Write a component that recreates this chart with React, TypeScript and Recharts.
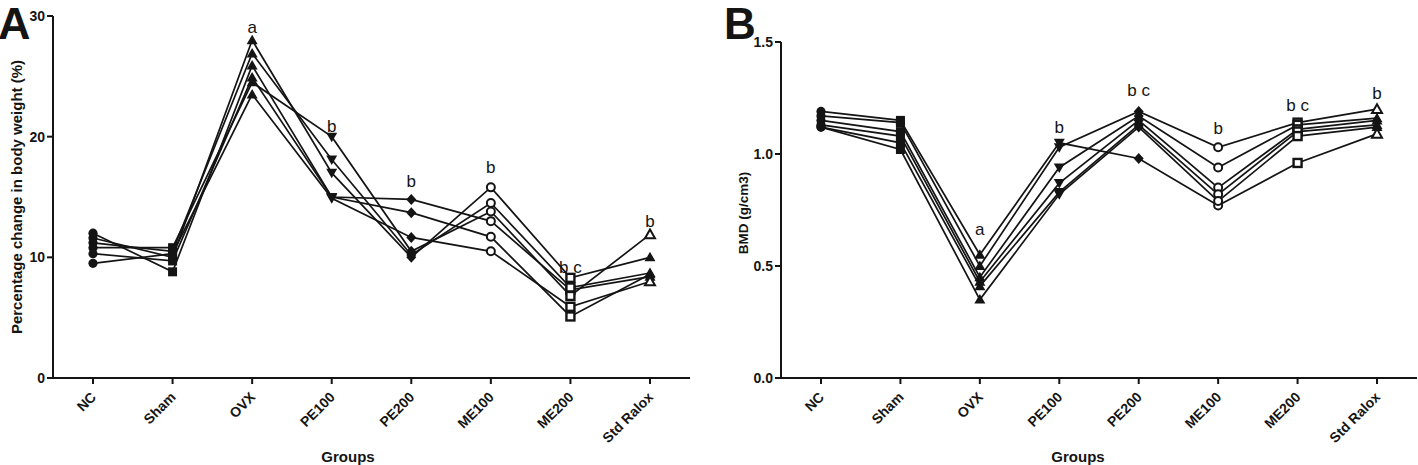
import React from 'react';
import { LineChart, Line, XAxis, YAxis, ReferenceDot } from 'recharts';

// ---------- data ----------
const groups = ['NC', 'Sham', 'OVX', 'PE100', 'PE200', 'ME100', 'ME200', 'Std Ralox'];

// Panel A: percentage change in body weight (%)
const weightRat1 = [12.0, 8.8, 25.9, 15.0, 14.8, 13.0, 7.3, 8.4];
const weightRat2 = [11.6, 10.0, 28.0, 17.0, 10.0, 15.8, 8.3, 10.0];
const weightRat3 = [11.2, 10.5, 26.9, 18.1, 10.2, 14.5, 7.5, 8.7];
const weightRat4 = [10.8, 10.8, 24.5, 20.0, 10.5, 13.8, 6.8, 11.9];
const weightRat5 = [10.3, 9.7, 24.9, 15.0, 13.7, 11.7, 5.1, 8.6];
const weightRat6 = [9.5, 10.3, 23.5, 14.9, 11.65, 10.5, 5.9, 8.0];

// Panel B: BMD (g/cm3)
const bmdRat1 = [1.19, 1.15, 0.55, 1.05, 0.98, 0.77, 0.96, 1.09];
const bmdRat2 = [1.17, 1.14, 0.5, 1.03, 1.19, 1.03, 1.14, 1.2];
const bmdRat3 = [1.15, 1.1, 0.45, 0.94, 1.17, 0.94, 1.13, 1.16];
const bmdRat4 = [1.13, 1.08, 0.43, 0.87, 1.15, 0.85, 1.11, 1.15];
const bmdRat5 = [1.12, 1.05, 0.41, 0.83, 1.13, 0.82, 1.1, 1.13];
const bmdRat6 = [1.12, 1.02, 0.35, 0.82, 1.12, 0.79, 1.08, 1.12];

const weightTicks = [0, 10, 20, 30];
const bmdTicks = [0, 0.5, 1.0, 1.5];

// significance letters
const annGroupsA = ['OVX', 'PE100', 'PE200', 'ME100', 'ME200', 'Std Ralox'];
const annTextA = ['a', 'b', 'b', 'b', 'b c', 'b'];
const annGroupsB = ['OVX', 'PE100', 'PE200', 'ME100', 'ME200', 'Std Ralox'];
const annTextB = ['a', 'b', 'b c', 'b', 'b c', 'b'];

// ---------- styling ----------
const FONT = '"Liberation Sans", Arial, Helvetica, sans-serif';
const INK = '#141414';
const markerByGroup = ['dot', 'square', 'tri', 'triDown', 'diamond', 'ring', 'box', 'triOpen'];
const raloxOpenA = [false, false, false, true, false, true];
const raloxOpenB = [true, true, false, false, false, false];
const annOffsetA = [6, 4, 11, 13, 4, 6];
const annOffsetB = [19, 9, 14, 12, 11, 9];

const weightSeries = [weightRat1, weightRat2, weightRat3, weightRat4, weightRat5, weightRat6];
const bmdSeries = [bmdRat1, bmdRat2, bmdRat3, bmdRat4, bmdRat5, bmdRat6];

const buildRows = (series: number[][]) =>
  groups.map((g, i) => {
    const row: any = { group: g };
    series.forEach((s, k) => {
      row['r' + (k + 1)] = s[i];
    });
    return row;
  });

const rowsA = buildRows(weightSeries);
const rowsB = buildRows(bmdSeries);

const groupMax = (series: number[][], g: string) => {
  const i = groups.indexOf(g);
  return Math.max(...series.map((s) => s[i]));
};

const makeDot = (lineIdx: number, raloxOpen: boolean[]) => (p: any) => {
  const { cx, cy, index } = p;
  const key = `dot-${lineIdx}-${index}`;
  if (cx == null || cy == null) return <g key={key} />;
  let shape = markerByGroup[index];
  if (shape === 'triOpen' && !raloxOpen[lineIdx]) shape = 'tri';
  switch (shape) {
    case 'dot':
      return <circle key={key} cx={cx} cy={cy} r={4.6} fill={INK} />;
    case 'square':
      return <rect key={key} x={cx - 4.5} y={cy - 4.5} width={9} height={9} fill={INK} />;
    case 'tri':
      return <polygon key={key} points={`${cx},${cy - 5.5} ${cx + 5.5},${cy + 4} ${cx - 5.5},${cy + 4}`} fill={INK} />;
    case 'triDown':
      return <polygon key={key} points={`${cx - 5.5},${cy - 4} ${cx + 5.5},${cy - 4} ${cx},${cy + 5.5}`} fill={INK} />;
    case 'diamond':
      return <polygon key={key} points={`${cx},${cy - 5.5} ${cx + 5},${cy} ${cx},${cy + 5.5} ${cx - 5},${cy}`} fill={INK} />;
    case 'ring':
      return <circle key={key} cx={cx} cy={cy} r={4} fill="#fff" stroke={INK} strokeWidth={2} />;
    case 'box':
      return <rect key={key} x={cx - 4} y={cy - 4} width={8} height={8} fill="#fff" stroke={INK} strokeWidth={2.4} />;
    case 'triOpen':
    default:
      return (
        <polygon key={key} points={`${cx},${cy - 5} ${cx + 5},${cy + 3.8} ${cx - 5},${cy + 3.8}`} fill="#fff" stroke={INK} strokeWidth={2} />
      );
  }
};

const XTick = (props: any) => {
  const { x, y, payload } = props;
  return (
    <g transform={`translate(${x + 4},${y + 12})`}>
      <text x={0} y={0} textAnchor="end" transform="rotate(-45)" fontFamily={FONT} fontWeight="bold" fontSize={14} fill={INK}>
        {payload.value}
      </text>
    </g>
  );
};

const makeYTick = (fmt: (v: number) => string) => (props: any) => {
  const { x, y, payload } = props;
  return (
    <text x={x} y={y} dy={5} textAnchor="end" fontFamily={FONT} fontWeight="bold" fontSize={14} fill={INK}>
      {fmt(payload.value)}
    </text>
  );
};

const axisLine = { stroke: INK, strokeWidth: 2 };

const Panel = ({
  rows,
  series,
  raloxOpen,
  domain,
  ticks,
  fmt,
  yWidth,
  top,
  width,
  right,
  annGroups,
  annText,
  annOffset,
}: any) => (
  <LineChart width={width} height={465} data={rows} margin={{ top, right, bottom: 0, left: 0 }}>
    <XAxis
      dataKey="group"
      padding={{ left: 40, right: 40 }}
      axisLine={axisLine}
      tickLine={axisLine}
      tickSize={6}
      tick={<XTick />}
      interval={0}
      height={87}
    />
    <YAxis
      domain={domain}
      ticks={ticks}
      width={yWidth}
      axisLine={axisLine}
      tickLine={axisLine}
      tickSize={6}
      tick={makeYTick(fmt)}
      allowDataOverflow
    />
    {series.map((_: any, k: number) => (
      <Line
        key={'r' + (k + 1)}
        dataKey={'r' + (k + 1)}
        type="linear"
        stroke={INK}
        strokeWidth={1.7}
        dot={makeDot(k, raloxOpen)}
        activeDot={false}
        isAnimationActive={false}
      />
    ))}
    {annGroups.map((g: string, i: number) => (
      <ReferenceDot
        key={'ann' + i}
        x={g}
        y={groupMax(series, g)}
        r={1}
        fill="none"
        stroke="none"
        label={{
          value: annText[i],
          position: 'top',
          offset: annOffset[i],
          fill: INK,
          fontSize: 17,
          fontFamily: FONT,
        }}
      />
    ))}
  </LineChart>
);

export default function App() {
  return (
    <div style={{ position: 'absolute', left: 0, top: 0, width: 1418, height: 465, background: '#fff', fontFamily: FONT }}>
      <div style={{ position: 'absolute', left: 0, top: 0 }}>
        <Panel
          rows={rowsA}
          series={weightSeries}
          raloxOpen={raloxOpenA}
          domain={[0, 30]}
          ticks={weightTicks}
          fmt={(v: number) => String(v)}
          yWidth={53}
          top={16}
          width={700}
          right={10}
          annGroups={annGroupsA}
          annText={annTextA}
          annOffset={annOffsetA}
        />
      </div>
      <div style={{ position: 'absolute', left: 700, top: 0 }}>
        <Panel
          rows={rowsB}
          series={bmdSeries}
          raloxOpen={raloxOpenB}
          domain={[0, 1.5]}
          ticks={bmdTicks}
          fmt={(v: number) => v.toFixed(1)}
          yWidth={81}
          top={42}
          width={718}
          right={1}
          annGroups={annGroupsB}
          annText={annTextB}
          annOffset={annOffsetB}
        />
      </div>
      <svg
        width={1418}
        height={465}
        style={{ position: 'absolute', left: 0, top: 0, pointerEvents: 'none' }}
      >
        <text x={-2} y={39} fontFamily={FONT} fontWeight="bold" fontSize={45} fill={INK}>A</text>
        <text x={724} y={39} fontFamily={FONT} fontWeight="bold" fontSize={44} fill={INK}>B</text>
        <text
          transform="translate(22,197) rotate(-90)"
          textAnchor="middle"
          fontFamily={FONT}
          fontWeight="bold"
          fontSize={15}
          fill={INK}
        >
          Percentage change in body weight (%)
        </text>
        <text
          transform="translate(748,213) rotate(-90)"
          textAnchor="middle"
          fontFamily={FONT}
          fontWeight="bold"
          fontSize={13.5}
          fill={INK}
        >
          BMD (g/cm3)
        </text>
        <text x={348} y={462} textAnchor="middle" fontFamily={FONT} fontWeight="bold" fontSize={15} fill={INK}>Groups</text>
        <text x={1078} y={462} textAnchor="middle" fontFamily={FONT} fontWeight="bold" fontSize={15} fill={INK}>Groups</text>
      </svg>
    </div>
  );
}
